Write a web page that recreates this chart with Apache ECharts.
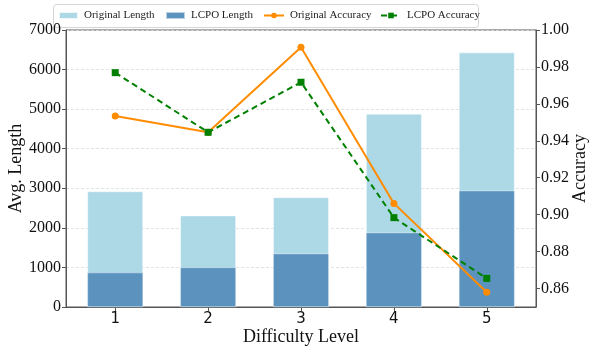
<!DOCTYPE html>
<html>
<head>
<meta charset="utf-8">
<script src="https://cdn.jsdelivr.net/npm/echarts@6/dist/echarts.min.js"></script>
<style>
html,body{margin:0;padding:0;background:#fff;}
#chart{width:591px;height:348px;}
</style>
</head>
<body>
<div id="chart"></div>
<script>
// ---- data ----
const levels = [1, 2, 3, 4, 5];
const originalLength = [2920, 2310, 2770, 4880, 6430];
const lcpoLength = [870, 1000, 1350, 1880, 2940];
const originalAccuracy = [0.9534, 0.9446, 0.9906, 0.9061, 0.858];
const lcpoAccuracy = [0.9769, 0.9446, 0.9717, 0.8984, 0.8655];
const accuracyTicks = [0.86, 0.88, 0.90, 0.92, 0.94, 0.96, 0.98, 1.00];
const seriesNames = ['Original Length', 'LCPO Length', 'Original Accuracy', 'LCPO Accuracy'];

const pair = arr => levels.map((l, i) => [l, arr[i]]);
const serif = '"Liberation Serif", "DejaVu Serif", serif';
const sans = '"DejaVu Sans", sans-serif';
const axisColor = '#555';

const chart = echarts.init(document.getElementById('chart'), null, {renderer: 'canvas'});

function legendAt(name, left, icon, w, h) {
  const l = {
    data: [name], left: left, top: 10, padding: 0, itemGap: 0,
    itemWidth: w, itemHeight: h,
    textStyle: {fontFamily: serif, fontSize: 11, color: '#222', padding: [0, 0, 0, 1]},
    selectedMode: false
  };
  if (icon) l.icon = icon;
  return l;
}

const option = {
  animation: false,
  grid: {left: 66, top: 30, width: 470, height: 277, show: true, borderColor: axisColor, borderWidth: 1,
         backgroundColor: 'transparent', containLabel: false, outerBoundsMode: 'none'},
  graphic: [{
    type: 'rect', left: 53, top: 4, z: 0,
    shape: {width: 425, height: 23, r: 3},
    style: {fill: 'rgba(255,255,255,0.85)', stroke: '#d5d5d5', lineWidth: 1}
  }],
  legend: [
    legendAt(seriesNames[0], 58, 'rect', 19, 7),
    legendAt(seriesNames[1], 165, 'rect', 19, 7),
    legendAt(seriesNames[2], 263, null, 20, 7),
    legendAt(seriesNames[3], 380, null, 20, 7)
  ],
  xAxis: {
    type: 'value', min: 0.47, max: 5.53,
    name: 'Difficulty Level', nameLocation: 'middle', nameGap: 21, nameMoveOverlap: false,
    nameTextStyle: {fontFamily: serif, fontSize: 18, color: '#111'},
    axisLine: {show: true, lineStyle: {color: axisColor, width: 1}},
    axisTick: {show: true, length: 4, customValues: levels, lineStyle: {color: axisColor}},
    axisLabel: {customValues: levels, fontFamily: sans, fontSize: 15, color: '#111', margin: 5},
    splitLine: {show: false}
  },
  yAxis: [{
    type: 'value', min: 0, max: 7000, interval: 1000, position: 'left',
    name: 'Avg. Length', nameLocation: 'middle', nameRotate: 90, nameGap: 41, nameMoveOverlap: false,
    nameTextStyle: {fontFamily: serif, fontSize: 18, color: '#111'},
    axisLine: {show: true, lineStyle: {color: axisColor}},
    axisTick: {show: true, length: 4, lineStyle: {color: axisColor}},
    axisLabel: {formatter: v => String(v), fontFamily: serif, fontSize: 16, color: '#111', margin: 5},
    splitLine: {show: true, lineStyle: {color: '#dcdcdc', type: [3, 2], width: 0.8}}
  }, {
    type: 'value', min: 0.85, max: 1.0, position: 'right',
    name: 'Accuracy', nameLocation: 'middle', nameRotate: 90, nameGap: 35, nameMoveOverlap: false,
    nameTextStyle: {fontFamily: serif, fontSize: 18, color: '#111'},
    axisLine: {show: true, lineStyle: {color: axisColor}},
    axisTick: {show: true, length: 4, customValues: accuracyTicks, lineStyle: {color: axisColor}},
    axisLabel: {customValues: accuracyTicks, formatter: v => v.toFixed(2), fontFamily: serif, fontSize: 16, color: '#111', margin: 5},
    splitLine: {show: false}
  }],
  series: [{
    name: seriesNames[0], type: 'bar', data: pair(originalLength),
    barWidth: 55.7, barGap: '-100%', z: 2,
    itemStyle: {color: '#ADD8E6', borderColor: 'rgba(255,255,255,0.8)', borderWidth: 0.6}
  }, {
    name: seriesNames[1], type: 'bar', data: pair(lcpoLength),
    barWidth: 55.7, barGap: '-100%', z: 3,
    itemStyle: {color: '#5B92BE', borderColor: 'rgba(255,255,255,0.6)', borderWidth: 0.6}
  }, {
    name: seriesNames[2], type: 'line', yAxisIndex: 1, data: pair(originalAccuracy), z: 5,
    symbol: 'circle', symbolSize: 7,
    lineStyle: {color: '#FF8C00', width: 2},
    itemStyle: {color: '#FF8C00'}
  }, {
    name: seriesNames[3], type: 'line', yAxisIndex: 1, data: pair(lcpoAccuracy), z: 6,
    symbol: 'rect', symbolSize: 7,
    lineStyle: {color: '#008000', width: 2, type: [6, 4]},
    itemStyle: {color: '#008000'}
  }]
};
chart.setOption(option);
</script>
</body>
</html>
